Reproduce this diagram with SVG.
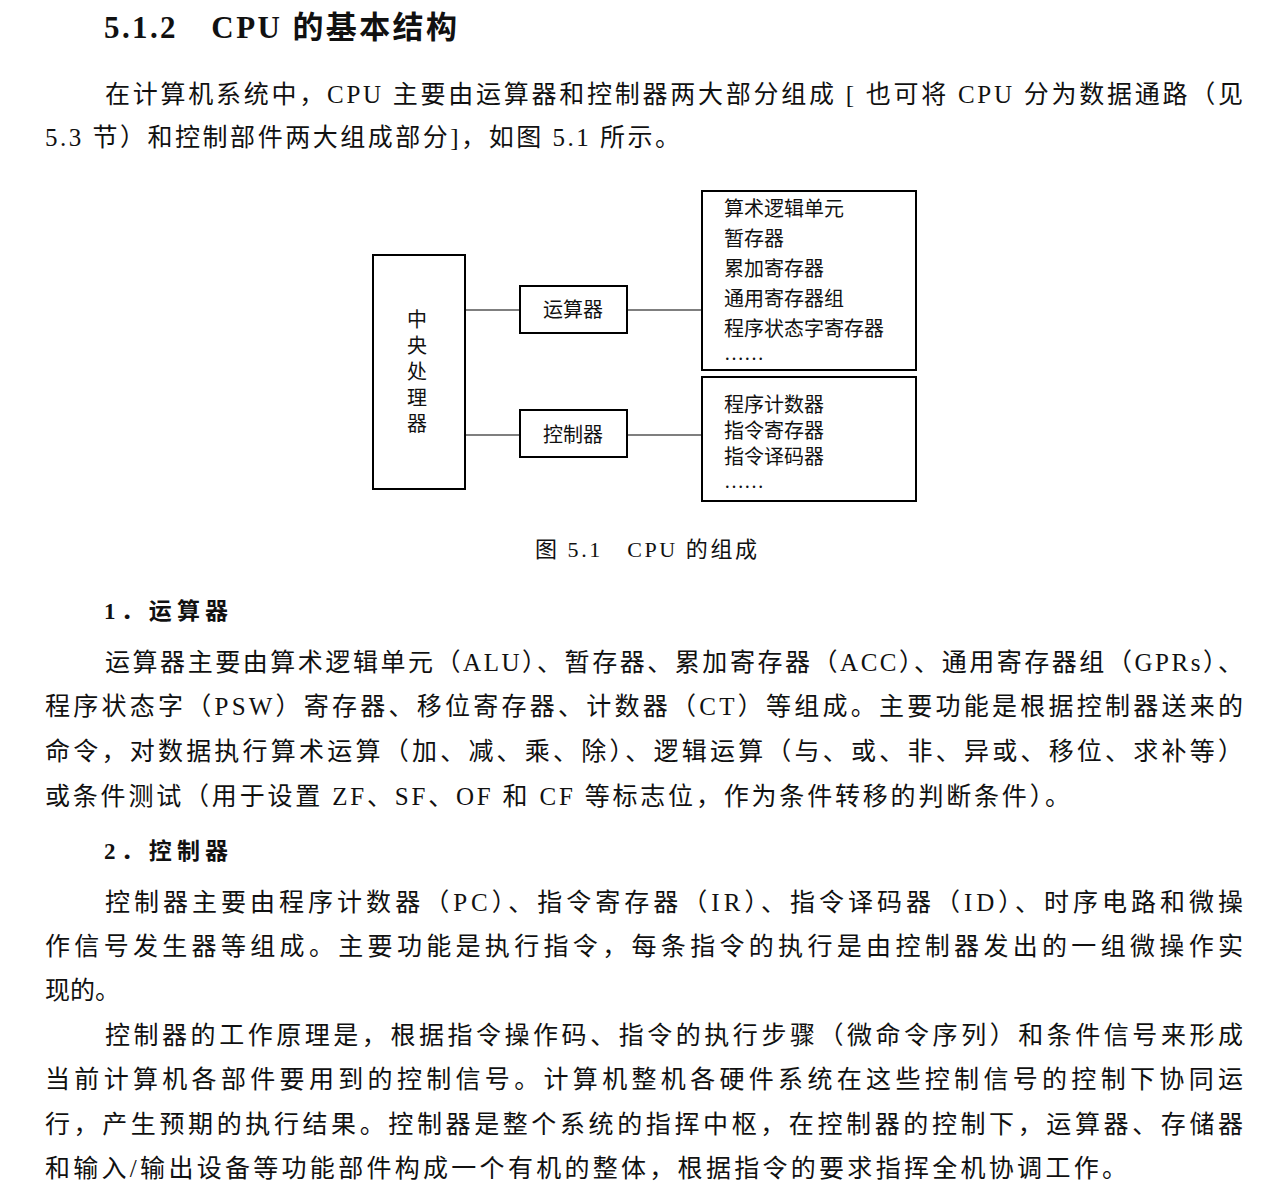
<svg xmlns="http://www.w3.org/2000/svg" width="1288" height="1200" viewBox="0 0 1288 1200">
<style>
text{font-family:"Liberation Serif","Noto Sans CJK SC",serif;fill:#111}
.b{font-size:25px}
.d{font-size:20px}
.h{font-size:31px;font-weight:bold}
.s{font-size:23px;font-weight:bold}
.box{fill:none;stroke:#000;stroke-width:2}
.ln{stroke:#000;stroke-width:1.2}
</style>
<rect width="1288" height="1200" fill="#fff"/>
<text class="h" x="104" y="38" textLength="353" lengthAdjust="spacing">5.1.2　CPU 的基本结构</text>
<text class="b" x="105" y="103" textLength="1138" lengthAdjust="spacing">在计算机系统中，CPU 主要由运算器和控制器两大部分组成 [ 也可将 CPU 分为数据通路（见</text>
<text class="b" x="45" y="146" textLength="635" lengthAdjust="spacing">5.3 节）和控制部件两大组成部分]，如图 5.1 所示。</text>
<g id="connectors">
<line class="ln" x1="465" y1="310" x2="520" y2="310"/>
<line class="ln" x1="627" y1="310" x2="702" y2="310"/>
<line class="ln" x1="465" y1="435" x2="520" y2="435"/>
<line class="ln" x1="627" y1="435" x2="702" y2="435"/>
</g>
<g id="cpu"><rect class="box" x="373" y="255" width="92" height="234"/>
<text class="d" x="417" text-anchor="middle"><tspan x="417" y="327">中</tspan><tspan x="417" y="353">央</tspan><tspan x="417" y="379">处</tspan><tspan x="417" y="405">理</tspan><tspan x="417" y="431">器</tspan></text></g>
<g id="alu"><rect class="box" x="520" y="286" width="107" height="47"/><text class="d" x="573" y="317" text-anchor="middle">运算器</text></g>
<g id="ctrl"><rect class="box" x="520" y="410" width="107" height="47"/><text class="d" x="573" y="442" text-anchor="middle">控制器</text></g>
<g id="alulist"><rect class="box" x="702" y="191" width="214" height="179"/>
<text class="d"><tspan x="724" y="216">算术逻辑单元</tspan><tspan x="724" y="246">暂存器</tspan><tspan x="724" y="276">累加寄存器</tspan><tspan x="724" y="306">通用寄存器组</tspan><tspan x="724" y="336">程序状态字寄存器</tspan><tspan x="724" y="360">……</tspan></text></g>
<g id="ctrllist"><rect class="box" x="702" y="377" width="214" height="124"/>
<text class="d"><tspan x="724" y="412">程序计数器</tspan><tspan x="724" y="438">指令寄存器</tspan><tspan x="724" y="464">指令译码器</tspan><tspan x="724" y="488">……</tspan></text></g>
<text x="535" y="557" style="font-size:22px" textLength="222" lengthAdjust="spacing">图 5.1　CPU 的组成</text>
<text class="s" x="104" y="619" textLength="124" lengthAdjust="spacing">1．运算器</text>
<text class="b" x="105" y="671" textLength="1138" lengthAdjust="spacing">运算器主要由算术逻辑单元（ALU）、暂存器、累加寄存器（ACC）、通用寄存器组（GPRs）、</text>
<text class="b" x="45" y="715" textLength="1198" lengthAdjust="spacing">程序状态字（PSW）寄存器、移位寄存器、计数器（CT）等组成。主要功能是根据控制器送来的</text>
<text class="b" x="45" y="760" textLength="1198" lengthAdjust="spacing">命令，对数据执行算术运算（加、减、乘、除）、逻辑运算（与、或、非、异或、移位、求补等）</text>
<text class="b" x="45" y="805" textLength="1025" lengthAdjust="spacing">或条件测试（用于设置 ZF、SF、OF 和 CF 等标志位，作为条件转移的判断条件）。</text>
<text class="s" x="104" y="859" textLength="124" lengthAdjust="spacing">2．控制器</text>
<text class="b" x="105" y="911" textLength="1138" lengthAdjust="spacing">控制器主要由程序计数器（PC）、指令寄存器（IR）、指令译码器（ID）、时序电路和微操</text>
<text class="b" x="45" y="955" textLength="1198" lengthAdjust="spacing">作信号发生器等组成。主要功能是执行指令，每条指令的执行是由控制器发出的一组微操作实</text>
<text class="b" x="45" y="999">现的。</text>
<text class="b" x="105" y="1044" textLength="1138" lengthAdjust="spacing">控制器的工作原理是，根据指令操作码、指令的执行步骤（微命令序列）和条件信号来形成</text>
<text class="b" x="45" y="1088" textLength="1198" lengthAdjust="spacing">当前计算机各部件要用到的控制信号。计算机整机各硬件系统在这些控制信号的控制下协同运</text>
<text class="b" x="45" y="1133" textLength="1198" lengthAdjust="spacing">行，产生预期的执行结果。控制器是整个系统的指挥中枢，在控制器的控制下，运算器、存储器</text>
<text class="b" x="45" y="1177" textLength="1082" lengthAdjust="spacing">和输入/输出设备等功能部件构成一个有机的整体，根据指令的要求指挥全机协调工作。</text>
</svg>
